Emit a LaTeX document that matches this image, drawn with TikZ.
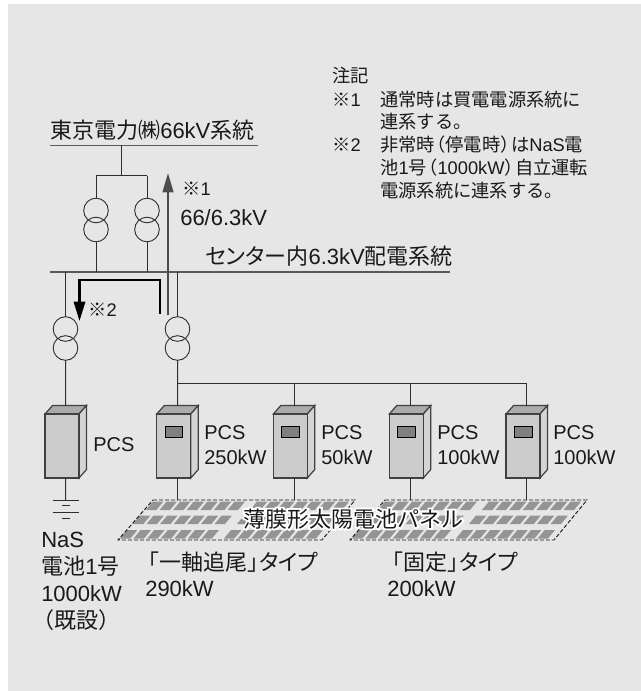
\documentclass[tikz,border=0pt]{standalone}
\usepackage{fontspec}
\setmainfont{Liberation Sans}
\newfontfamily\jp{Noto Sans CJK JP}
\newfontfamily\jpk[RawFeature=+palt]{Noto Sans CJK JP}
\newfontfamily\jph[FakeBold=16]{Noto Sans CJK JP}
\usetikzlibrary{arrows.meta}
\definecolor{hakuji}{HTML}{E6E6E6}
\definecolor{sumi}{HTML}{2E2E2E}
\newcommand{\jt}[1]{{\jp #1}}
\newcommand{\jk}[1]{{\jpk #1}}
\newcommand{\lp}{\kern-.42em\jt{（}}
\newcommand{\rp}{\jt{）}\kern-.42em}
\tikzset{
    lab/.style={anchor=base west,inner sep=0pt,text=black!90,font=\fontsize{16.5}{20}\selectfont},
    labs/.style={lab,font=\fontsize{15}{18}\selectfont},
    note/.style={anchor=base west,inner sep=0pt,text=black!90,font=\fontsize{13.7}{18}\selectfont},
    wire/.style={draw=sumi,line width=.75pt},
    bus/.style={draw=black!65,line width=1.2pt},
    pcsbox/.pic={
        \path[draw=black!75,line width=.9pt,fill=black!33](0,0)--(7.5,-8.5)--(41.5,-8.5)--(34,0)--cycle;
        \path[draw=black!75,line width=.9pt,fill=black!17](34,0)--(41.5,-8.5)--(41.5,55.5)--(34,64)--cycle;
        \path[draw=black!75,line width=.9pt,fill=black!20](0,0)rectangle(34,64);
        \coordinate(-t)at(20.7,-8.5);
        \coordinate(-b)at(20.7,64);
    },
    pcsface/.pic={
        \path[draw=black,line width=.7pt,fill=black!50](8.3,12)rectangle(26,23.5);
    },
    henatsu/.pic={
        \draw[sumi,line width=.7pt](0,-9.5)circle(12.3);
        \draw[sumi,line width=.7pt](0,9.5)circle(12.3);
        \coordinate(-i)at(0,-21.8);
        \coordinate(-o)at(0,21.8);
    },
    panel/.pic={
        \foreach \g in {0,104}{
            \foreach \r/\sx/\ry in {0/0/1.5,1/-13/15.5,2/-26/30}{
                \foreach \c in {0,...,6}{
                    \fill[black!42]({\sx+\g+\c*13.6},\ry)--++(10.4,0)--++(-7,8.5)--++(-10.4,0)--cycle;
                }
            }
        }
        \draw[black!90,line width=.7pt,dash pattern=on 3pt off 1.5pt](0,0)--(202,0)--(169,40)--(-35,40)--cycle;
        \coordinate(-a)at(24.5,0);
        \coordinate(-b)at(141,0);
    },
}
\begin{document}
\begin{tikzpicture}[x=.75pt,y=-.75pt]
    \useasboundingbox(0,0)rectangle(641,691);
    \fill[hakuji](8,4)rectangle(641,691);
    % bus
    \coordinate(ua)at(50,145.5);
    \coordinate(ub)at(258,145.5);
    \coordinate(la)at(50,272);
    \coordinate(lb)at(450,272);
    \path[bus](ua)--(ub);
    \path[bus](la)--(lb);
    \node[lab](tepco)at(50,139){\jt{東京電力㈱}66kV\jt{系統}};
    \node[lab](naibu)at(205,265){\jk{センター}\jt{内}6.3kV\jt{配電系統}};
    % transformer
    \pic(tra)at(96,220){henatsu};
    \pic(trb)at(147,220){henatsu};
    \pic(trc)at(65.5,338.5){henatsu};
    \pic(trd)at(177.5,338.5){henatsu};
    \coordinate(ja)at(121.5,145.5);
    \coordinate(jb)at(121.5,176);
    \coordinate(jc)at(96,176);
    \coordinate(jd)at(147,176);
    \path[wire](ja)--(jb);
    \path[wire](jc)--(jd);
    \path[wire](jc)--(tra-i);
    \path[wire](jd)--(trb-i);
    \path[wire](tra-o)--(96,272);
    \path[wire](trb-o)--(147,272);
    \path[wire](65.5,272)--(trc-i);
    \path[wire](177.5,272)--(trd-i);
    % pcs
    \pic(pa)at(45,414){pcsbox};
    \pic(pb)at(156.8,414){pcsbox};
    \pic(pc)at(273.3,414){pcsbox};
    \pic(pd)at(389.3,414){pcsbox};
    \pic(pe)at(506,414){pcsbox};
    \pic at(156.8,414){pcsface};
    \pic at(273.3,414){pcsface};
    \pic at(389.3,414){pcsface};
    \pic at(506,414){pcsface};
    \path[wire](trc-o)--(pa-t);
    \path[wire](trd-o)--(pb-t);
    \coordinate(ka)at(177.5,383);
    \coordinate(kb)at(526.7,383);
    \path[wire](ka)--(kb);
    \path[wire](pc-t)--(pc-t|-ka);
    \path[wire](pd-t)--(pd-t|-ka);
    \path[wire](pe-t)--(kb);
    % ground
    \coordinate(ea)at(65.5,500.5);
    \path[wire](pa-b)--(ea);
    \path[wire,line width=.7pt](53,500.5)--(79,500.5);
    \path[wire,line width=.7pt](62,505.5)--(70,505.5);
    \path[wire,line width=.7pt](53,512)--(79,512);
    \path[wire,line width=.7pt](62,518)--(70,518);
    % panel
    \pic(sa)at(153,500){panel};
    \pic(sb)at(385,500){panel};
    \path[wire](pb-b)--(pb-b|-sa-a);
    \path[wire](pc-b)--(pc-b|-sa-a);
    \path[wire](pd-b)--(pd-b|-sb-a);
    \path[wire](pe-b)--(pe-b|-sb-a);
    \node[lab,text=white](taiyoh)at(243,527){{\jph 薄膜形太陽電池パネル}};
    \node[lab](taiyo)at(243,527){\jt{薄膜形太陽電池パネル}};
    % flow
    \coordinate(fa)at(168,315);
    \coordinate(fb)at(168,173);
    \path[draw=black!70,line width=1.6pt,-{Triangle[length=14.5pt,width=8pt]}](fa)--(fb);
    \coordinate(ga)at(160,314);
    \coordinate(gb)at(160,280);
    \coordinate(gc)at(79.5,280);
    \coordinate(gd)at(79.5,321);
    \path[draw=black,line width=1.7pt,-{Triangle[length=14.5pt,width=8.5pt]}](ga)--(gb)--(gc)--(gd);
    % labels
    \node[note](kome)at(182,196){\jt{※}1};
    \node[lab](henka)at(180,226){66/6.3kV};
    \node[note](komeb)at(88,316){\jt{※}2};
    \node[labs](pcsa)at(93,451){PCS};
    \foreach \nm/\xx/\kw in {pcsb/204/250kW,pcsc/321/50kW,pcsd/437/100kW,pcse/553/100kW}{
        \node[labs](\nm)at(\xx,439){PCS};
        \node[labs](\nm k)at(\xx,464){\kw};
    }
    \node[lab](nasa)at(41,547){NaS};
    \node[lab](nasb)at(41,574){\jt{電池}1\jt{号}};
    \node[lab](nasc)at(41,601){1000kW};
    \node[lab](nasd)at(41,628){\lp\jt{既設}\rp};
    \node[lab](jika)at(137,570){\jt{「一軸追尾」}\kern-.45em\jk{タイプ}};
    \node[lab](jikb)at(145,596){290kW};
    \node[lab](koa)at(381,570){\jt{「固定」}\kern-.45em\jk{タイプ}};
    \node[lab](kob)at(387,596){200kW};
    % note
    \node[note](cht)at(332,83){\jt{注記}};
    \node[note](cha)at(332,107){\jt{※}1};
    \node[note](chb)at(380,107){\jt{通常時は買電電源系統に}};
    \node[note](chc)at(380,129){\jt{連系する。}};
    \node[note](chd)at(332,152){\jt{※}2};
    \node[note](che)at(380,152){\jt{非常時}\lp\jt{停電時}\rp\jt{は}NaS\jt{電}};
    \node[note](chf)at(380,175){\jt{池}1\jt{号}\lp 1000kW\rp\jt{自立運転}};
    \node[note](chg)at(380,198){\jt{電源系統に連系する。}};
\end{tikzpicture}
\end{document}
